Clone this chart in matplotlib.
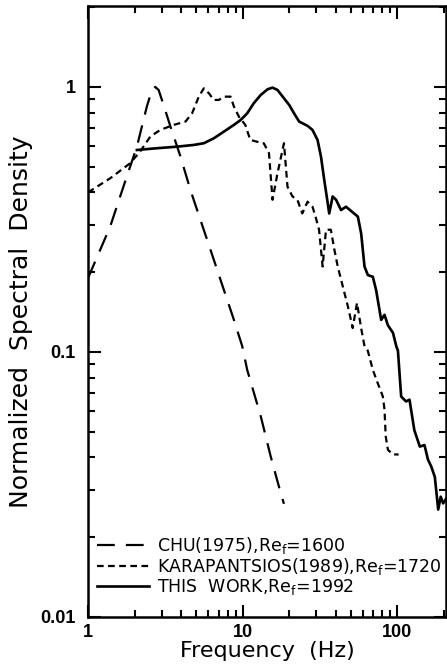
import matplotlib
matplotlib.use("Agg")
import matplotlib.pyplot as plt
from matplotlib.ticker import LogLocator, FixedLocator, FixedFormatter, NullFormatter

plt.rcParams['font.family'] = ['DejaVu Sans']
plt.rcParams['mathtext.default'] = 'regular'

# CHU (1975), long dashes
chu_f = [1, 1.39, 1.78, 2.07, 2.4, 2.59, 2.72, 2.86, 3.08, 3.41, 3.96, 4.59, 5.33, 6.19, 7.19, 8.78,
         9.94, 10.7, 13.1, 15.2, 17.6, 18.5]
chu_s = [0.19, 0.297, 0.459, 0.595, 0.843, 0.974, 1.0, 0.974, 0.855, 0.709, 0.546, 0.409, 0.315, 0.243,
         0.187, 0.132, 0.105, 0.0855, 0.0571, 0.0402, 0.0294, 0.0267]

# KARAPANTSIOS (1989), short dashes
kar_f = [1, 1.39, 1.87, 2.17, 2.53, 2.93, 3.58, 4.27, 4.71, 5.2, 5.61, 6.05, 6.51, 7.02, 7.56, 8.35,
         8.78, 9.46, 10.4, 11.2, 12.4, 13.7, 14.8, 15.6, 16.8, 18.5, 19.5, 21, 22.6, 24.3, 26.3, 28.3,
         29.6, 31.2, 32.9, 34.6, 37.2, 39.2, 41.2, 44.5, 48, 51.5, 54.9, 58.4, 61.4, 64.5, 69.5, 74.9,
         80.7, 82.7, 84.2, 87, 93.8, 102]
kar_s = [0.40, 0.452, 0.515, 0.57, 0.65, 0.688, 0.719, 0.74, 0.795, 0.919, 0.988, 0.946, 0.893, 0.893,
         0.919, 0.919, 0.843, 0.772, 0.719, 0.631, 0.621, 0.613, 0.562, 0.375, 0.472, 0.613, 0.42, 0.386,
         0.375, 0.333, 0.369, 0.353, 0.324, 0.289, 0.21, 0.289, 0.289, 0.243, 0.21, 0.176, 0.148, 0.123,
         0.153, 0.123, 0.105, 0.101, 0.0855, 0.076, 0.0678, 0.0606, 0.048, 0.0427, 0.041, 0.041]

# THIS WORK, solid
tw_f = [2.07, 2.79, 3.77, 4.83, 5.61, 6.51, 7.56, 8.78, 9.7, 10.7, 11.8, 13.1, 14.5, 15.6, 16.8, 18.5,
        20, 21.5, 23.2, 26.3, 28.3, 30.5, 32.1, 33.7, 35.5, 36.3, 38.2, 40.2, 43.3, 46.6, 55.6, 58.4,
        61.4, 64.5, 69.5, 73, 78.7, 82.7, 87, 93.8, 98.6, 101, 106, 114, 120, 129, 140, 150, 158, 166,
        175, 184, 191, 198, 208]
tw_s = [0.578, 0.587, 0.595, 0.604, 0.613, 0.64, 0.678, 0.719, 0.75, 0.795, 0.868, 0.933, 0.98, 0.994,
        0.974, 0.906, 0.855, 0.795, 0.74, 0.713, 0.688, 0.631, 0.546, 0.446, 0.364, 0.333, 0.386, 0.375,
        0.343, 0.353, 0.324, 0.28, 0.21, 0.195, 0.192, 0.171, 0.132, 0.138, 0.126, 0.118, 0.105, 0.101,
        0.0678, 0.065, 0.066, 0.0506, 0.0439, 0.0445, 0.0392, 0.0369, 0.0337, 0.0254, 0.0284, 0.0268, 0.028]

labels = ['CHU(1975),Re$_f$=1600', 'KARAPANTSIOS(1989),Re$_f$=1720', 'THIS  WORK,Re$_f$=1992']

fig = plt.figure(figsize=(4.47, 6.69), dpi=100)
ax = fig.add_axes([0.197, 0.078, 0.801, 0.913])

lw = 1.6
ax.plot(chu_f, chu_s, color='black', lw=lw, dashes=(8, 5), label=labels[0])
ax.plot(kar_f, kar_s, color='black', lw=lw, dashes=(3, 2), label=labels[1])
ax.plot(tw_f, tw_s, color='black', lw=lw * 1.2, label=labels[2])

ax.set_xscale('log')
ax.set_yscale('log')
ax.set_xlim(1, 207)
ax.set_ylim(0.01, 2.02)

ax.xaxis.set_major_locator(FixedLocator([1, 10, 100]))
ax.xaxis.set_major_formatter(FixedFormatter(['1', '10', '100']))
ax.xaxis.set_minor_locator(LogLocator(base=10, subs=range(2, 10), numticks=20))
ax.xaxis.set_minor_formatter(NullFormatter())
ax.yaxis.set_major_locator(FixedLocator([0.01, 0.1, 1]))
ax.yaxis.set_major_formatter(FixedFormatter(['0.01', '0.1', '1']))
ax.yaxis.set_minor_locator(LogLocator(base=10, subs=range(2, 10), numticks=20))
ax.yaxis.set_minor_formatter(NullFormatter())

ax.tick_params(which='both', direction='in', top=True, right=True, width=1.5)
ax.tick_params(which='major', length=9, labelsize=13)
ax.tick_params(axis='x', which='major', pad=5)
ax.tick_params(axis='y', which='major', pad=9)
ax.tick_params(which='minor', length=5)
for lab in ax.get_xticklabels() + ax.get_yticklabels():
    lab.set_fontfamily('Liberation Sans')
    lab.set_fontweight('bold')
for sp in ax.spines.values():
    sp.set_linewidth(1.8)

ax.set_xlabel('Frequency  (Hz)', fontsize=16, labelpad=0)
ax.set_ylabel('Normalized  Spectral  Density', fontsize=18)
ax.yaxis.set_label_coords(-0.155, 0.483)

leg = ax.legend(loc='lower left', bbox_to_anchor=(-0.01, 0.012), frameon=False,
                prop={'size': 12.5},
                handlelength=3.0, handletextpad=0.45, labelspacing=0.0, borderpad=0.2)

fig.savefig('out.png', dpi=100)
